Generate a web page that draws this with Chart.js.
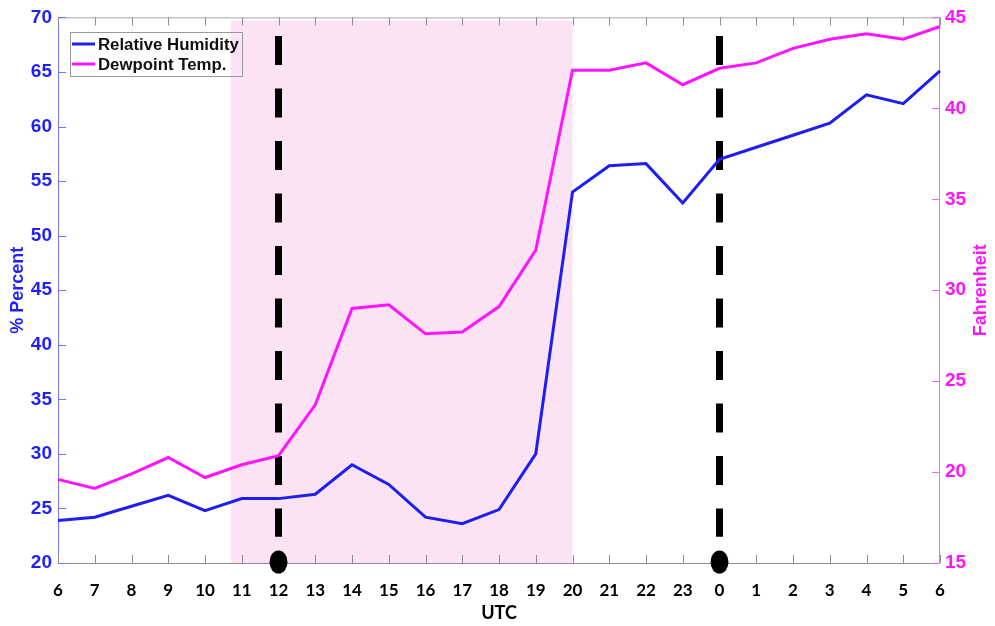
<!DOCTYPE html>
<html>
<head>
<meta charset="utf-8">
<script src="https://cdn.jsdelivr.net/npm/chart.js@4/dist/chart.umd.min.js"></script>
<style>
  html, body { margin: 0; padding: 0; background: #ffffff; }
  #wrap { width: 995px; height: 626px; }
</style>
</head>
<body>
<div id="wrap"><canvas id="chart" width="995" height="626"></canvas></div>
<script>
// Hourly observations (UTC), spanning 06 UTC to 06 UTC the next day
const hours = ['6','7','8','9','10','11','12','13','14','15','16','17','18','19','20','21','22','23','0','1','2','3','4','5','6'];
const relativeHumidity = [23.9, 24.2, 25.2, 26.2, 24.8, 25.9, 25.9, 26.3, 29.0, 27.2, 24.2, 23.6, 24.9, 30.0, 54.0, 56.4, 56.6, 53.0, 57.0, 58.1, 59.2, 60.3, 62.9, 62.1, 65.1];
const dewpointTemp = [19.6, 19.1, 19.9, 20.8, 19.7, 20.4, 20.9, 23.7, 29.0, 29.2, 27.6, 27.7, 29.1, 32.2, 42.1, 42.1, 42.5, 41.3, 42.2, 42.5, 43.3, 43.8, 44.1, 43.8, 44.5];

// Axis ranges
const percentRange = [20, 70];
const fahrenheitRange = [15, 45];
const tickStep = 5;

// Highlighted period and event markers, as positions along the hour axis
const shadedPeriod = [4.7, 14];
const eventMarkers = [6, 18];

const BLUE = '#1e1ef2';
const BLUE_TEXT = '#1f1fff';
const MAGENTA = '#ff14ff';
const TICK_FONT = 'Liberation Sans';

const decorations = {
  id: 'decorations',
  beforeDatasetsDraw(chart) {
    const { ctx, chartArea: a, scales: { x, y, y1 } } = chart;
    ctx.save();

    // shaded period
    const sx0 = x.getPixelForValue(shadedPeriod[0]);
    const sx1 = x.getPixelForValue(shadedPeriod[1]);
    const sTop = y.getPixelForValue(69.7);
    ctx.fillStyle = '#fbe3f4';
    ctx.fillRect(sx0, sTop, sx1 - sx0, a.bottom - sTop);

    // frame
    ctx.lineWidth = 1;
    ctx.strokeStyle = '#a8a8a8';
    ctx.beginPath();
    ctx.moveTo(a.left, a.top + 0.5); ctx.lineTo(a.right, a.top + 0.5);
    ctx.stroke();
    ctx.strokeStyle = '#8c8c8c';
    ctx.beginPath();
    ctx.moveTo(a.left, a.bottom + 0.5); ctx.lineTo(a.right, a.bottom + 0.5);
    ctx.stroke();
    ctx.strokeStyle = '#7272ff';
    ctx.beginPath();
    ctx.moveTo(a.left + 0.5, a.top); ctx.lineTo(a.left + 0.5, a.bottom);
    ctx.stroke();
    ctx.strokeStyle = '#ff60ff';
    ctx.beginPath();
    ctx.moveTo(a.right - 0.5, a.top); ctx.lineTo(a.right - 0.5, a.bottom);
    ctx.stroke();

    // inward tick marks
    ctx.strokeStyle = '#8c8c8c';
    ctx.beginPath();
    x.ticks.forEach((t, i) => {
      const px = Math.round(x.getPixelForTick(i)) + 0.5;
      ctx.moveTo(px, a.bottom); ctx.lineTo(px, a.bottom - 8);
      ctx.moveTo(px, a.top); ctx.lineTo(px, a.top + 8);
    });
    ctx.stroke();
    ctx.strokeStyle = '#7272ff';
    ctx.beginPath();
    y.ticks.forEach(t => {
      const py = Math.round(y.getPixelForValue(t.value)) + 0.5;
      ctx.moveTo(a.left, py); ctx.lineTo(a.left + 8, py);
    });
    ctx.stroke();
    ctx.strokeStyle = '#ff60ff';
    ctx.beginPath();
    y1.ticks.forEach(t => {
      const py = Math.round(y1.getPixelForValue(t.value)) + 0.5;
      ctx.moveTo(a.right, py); ctx.lineTo(a.right - 8, py);
    });
    ctx.stroke();

    // dashed event markers
    ctx.strokeStyle = '#000000';
    ctx.lineWidth = 7;
    ctx.lineCap = 'butt';
    ctx.setLineDash([29, 23.5]);
    eventMarkers.forEach(m => {
      const px = x.getPixelForValue(m);
      ctx.beginPath();
      ctx.moveTo(px, y.getPixelForValue(68.3));
      ctx.lineTo(px, y.getPixelForValue(22.4));
      ctx.stroke();
    });
    ctx.restore();
  },
  afterDraw(chart) {
    const { ctx, chartArea: a, scales: { x } } = chart;
    ctx.save();

    // marker dots on the time axis
    ctx.fillStyle = '#000000';
    eventMarkers.forEach(m => {
      ctx.beginPath();
      ctx.ellipse(x.getPixelForValue(m), a.bottom - 1, 9, 11.5, 0, 0, Math.PI * 2);
      ctx.fill();
    });

    // legend
    ctx.strokeStyle = '#9a9a9a';
    ctx.lineWidth = 1;
    ctx.strokeRect(70.5, 32.5, 172, 44);
    ctx.font = 'bold 16.8px "' + TICK_FONT + '"';
    ctx.textBaseline = 'middle';
    ctx.textAlign = 'left';
    chart.data.datasets.forEach((ds, i) => {
      const ly = 44 + i * 20;
      ctx.strokeStyle = ds.borderColor;
      ctx.lineWidth = 3;
      ctx.beginPath();
      ctx.moveTo(72, ly); ctx.lineTo(95, ly);
      ctx.stroke();
      ctx.fillStyle = '#111111';
      ctx.fillText(ds.label, 98, ly + 1);
    });

    // right axis title, reading upward
    ctx.fillStyle = MAGENTA;
    ctx.font = 'bold 18px "' + TICK_FONT + '"';
    ctx.textAlign = 'center';
    ctx.translate(981, (a.top + a.bottom) / 2);
    ctx.rotate(-Math.PI / 2);
    ctx.fillText('Fahrenheit', 0, 0);
    ctx.restore();
  }
};

new Chart(document.getElementById('chart'), {
  type: 'line',
  data: {
    labels: hours,
    datasets: [
      { label: 'Relative Humidity', data: relativeHumidity, yAxisID: 'y', borderColor: BLUE, backgroundColor: BLUE },
      { label: 'Dewpoint Temp.', data: dewpointTemp, yAxisID: 'y1', borderColor: MAGENTA, backgroundColor: MAGENTA }
    ]
  },
  options: {
    responsive: false,
    animation: false,
    devicePixelRatio: 1,
    layout: { padding: { top: 15, left: 0, right: 0, bottom: 0 } },
    plugins: { legend: { display: false }, tooltip: { enabled: false } },
    elements: {
      point: { radius: 0 },
      line: { tension: 0, borderWidth: 3, borderJoinStyle: 'miter' }
    },
    scales: {
      x: {
        type: 'category',
        offset: false,
        grid: { display: false, drawTicks: false },
        border: { display: false },
        ticks: {
          color: '#000000',
          font: { family: 'Lato', weight: 'bold', size: 17 },
          padding: 17,
          maxRotation: 0,
          autoSkip: false
        },
        title: {
          display: true, text: 'UTC', color: '#000000',
          font: { family: 'Lato', weight: 'bold', size: 18 },
          padding: { top: 0, bottom: 2 }
        },
        afterFit(s) { s.height = 63; }
      },
      y: {
        position: 'left',
        min: percentRange[0], max: percentRange[1],
        grid: { display: false, drawTicks: false },
        border: { display: false },
        ticks: {
          stepSize: tickStep, color: BLUE_TEXT,
          font: { family: TICK_FONT, weight: 'bold', size: 19 },
          padding: 6
        },
        title: {
          display: true, text: '% Percent', color: BLUE_TEXT,
          font: { family: TICK_FONT, weight: 'bold', size: 18 },
          padding: { top: 7, bottom: 0 }
        },
        afterFit(s) { s.width = 58; }
      },
      y1: {
        position: 'right',
        min: fahrenheitRange[0], max: fahrenheitRange[1],
        grid: { display: false, drawTicks: false },
        border: { display: false },
        ticks: {
          stepSize: tickStep, color: MAGENTA,
          font: { family: TICK_FONT, weight: 'bold', size: 19 },
          padding: 5
        },
        afterFit(s) { s.width = 55; }
      }
    }
  },
  plugins: [decorations]
});
</script>
</body>
</html>
